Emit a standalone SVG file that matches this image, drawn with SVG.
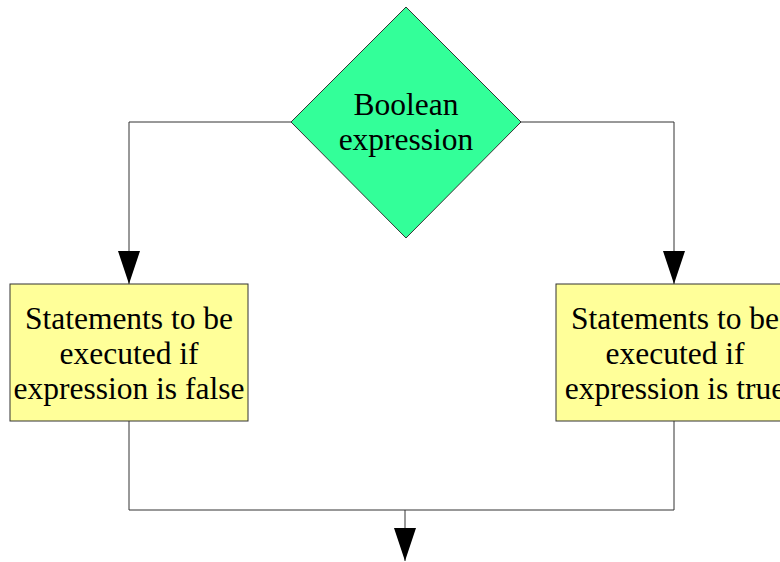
<svg xmlns="http://www.w3.org/2000/svg" width="780" height="562" viewBox="0 0 780 562">
<style>
.t{font-family:"Liberation Serif","Times New Roman",serif;font-size:31.5px;fill:#000;text-anchor:middle}
.box{fill:#ffff99;stroke:#333;stroke-width:1}
.dia{fill:#33ff99;stroke:#333;stroke-width:1}
.c{fill:none;stroke:#333;stroke-width:1}
</style>
<defs>
<marker id="ah" markerUnits="userSpaceOnUse" markerWidth="34" markerHeight="24" refX="33" refY="11" orient="auto" viewBox="0 0 34 24">
<path d="M0,0 L33,11 L0,22 z" fill="#000"/>
</marker>
</defs>
<rect width="780" height="562" fill="#fff"/>
<g id="connectors">
<path class="c" d="M291,122 H129 V284" marker-end="url(#ah)"/>
<path class="c" d="M521,122 H674 V284" marker-end="url(#ah)"/>
<path class="c" d="M129,421 V510 H674 V421"/>
<path class="c" d="M405,510 V561" marker-end="url(#ah)"/>
</g>
<g id="decision">
<polygon class="dia" points="406,7 521,122 406,238 291,122"/>
<text class="t" x="406" y="115">Boolean</text>
<text class="t" x="406" y="150">expression</text>
</g>
<g id="false-branch">
<rect class="box" x="10" y="284" width="238" height="137"/>
<text class="t" x="129" y="329">Statements to be</text>
<text class="t" x="129" y="364">executed if</text>
<text class="t" x="129" y="399">expression is false</text>
</g>
<g id="true-branch">
<rect class="box" x="556" y="284" width="238" height="137"/>
<text class="t" x="675" y="329">Statements to be</text>
<text class="t" x="675" y="364">executed if</text>
<text class="t" x="675" y="399">expression is true</text>
</g>
</svg>
